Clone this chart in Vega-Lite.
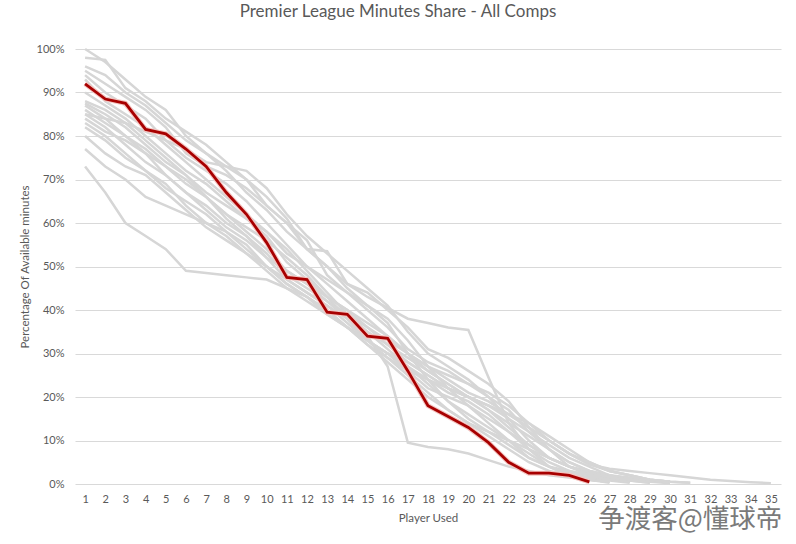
{
  "$schema": "https://vega.github.io/schema/vega-lite/v6.json",
  "width": 706,
  "height": 435,
  "autosize": {"type": "none"},
  "padding": {"left": 75, "top": 49, "right": 15, "bottom": 60},
  "background": "white",
  "title": {
    "text": "Premier League Minutes Share - All Comps",
    "font": "Lato",
    "fontSize": 17,
    "fontWeight": "normal",
    "color": "#595959",
    "anchor": "middle",
    "dx": -30,
    "offset": 22
  },
  "config": {
    "view": {"stroke": null},
    "axis": {"labelFont": "Lato", "titleFont": "Lato", "labelColor": "#595959", "titleColor": "#595959", "titleFontWeight": "normal"}
  },
  "datasets": {
    "minutes": [
      {"team": "Highlighted", "player": 1, "pct": 92}, {"team": "Highlighted", "player": 2, "pct": 88.5}, {"team": "Highlighted", "player": 3, "pct": 87.5}, {"team": "Highlighted", "player": 4, "pct": 81.5}, {"team": "Highlighted", "player": 5, "pct": 80.5}, {"team": "Highlighted", "player": 6, "pct": 77}, {"team": "Highlighted", "player": 7, "pct": 73}, {"team": "Highlighted", "player": 8, "pct": 67}, {"team": "Highlighted", "player": 9, "pct": 62}, {"team": "Highlighted", "player": 10, "pct": 55.5}, {"team": "Highlighted", "player": 11, "pct": 47.5}, {"team": "Highlighted", "player": 12, "pct": 47}, {"team": "Highlighted", "player": 13, "pct": 39.5}, {"team": "Highlighted", "player": 14, "pct": 39}, {"team": "Highlighted", "player": 15, "pct": 34}, {"team": "Highlighted", "player": 16, "pct": 33.5}, {"team": "Highlighted", "player": 17, "pct": 26}, {"team": "Highlighted", "player": 18, "pct": 18}, {"team": "Highlighted", "player": 19, "pct": 15.5}, {"team": "Highlighted", "player": 20, "pct": 13}, {"team": "Highlighted", "player": 21, "pct": 9.5}, {"team": "Highlighted", "player": 22, "pct": 5}, {"team": "Highlighted", "player": 23, "pct": 2.5}, {"team": "Highlighted", "player": 24, "pct": 2.5}, {"team": "Highlighted", "player": 25, "pct": 2}, {"team": "Highlighted", "player": 26, "pct": 0.5},

      {"team": "T1", "player": 1, "pct": 100}, {"team": "T1", "player": 2, "pct": 97}, {"team": "T1", "player": 3, "pct": 93}, {"team": "T1", "player": 4, "pct": 89}, {"team": "T1", "player": 5, "pct": 86}, {"team": "T1", "player": 6, "pct": 80}, {"team": "T1", "player": 7, "pct": 76}, {"team": "T1", "player": 8, "pct": 72}, {"team": "T1", "player": 9, "pct": 67}, {"team": "T1", "player": 10, "pct": 63}, {"team": "T1", "player": 11, "pct": 58}, {"team": "T1", "player": 12, "pct": 54}, {"team": "T1", "player": 13, "pct": 50}, {"team": "T1", "player": 14, "pct": 45}, {"team": "T1", "player": 15, "pct": 41}, {"team": "T1", "player": 16, "pct": 37}, {"team": "T1", "player": 17, "pct": 30}, {"team": "T1", "player": 18, "pct": 24}, {"team": "T1", "player": 19, "pct": 19}, {"team": "T1", "player": 20, "pct": 15}, {"team": "T1", "player": 21, "pct": 12}, {"team": "T1", "player": 22, "pct": 9}, {"team": "T1", "player": 23, "pct": 6}, {"team": "T1", "player": 24, "pct": 4}, {"team": "T1", "player": 25, "pct": 3}, {"team": "T1", "player": 26, "pct": 2}, {"team": "T1", "player": 27, "pct": 1.5}, {"team": "T1", "player": 28, "pct": 1}, {"team": "T1", "player": 29, "pct": 0.5}, {"team": "T1", "player": 30, "pct": 0.2},

      {"team": "T2", "player": 1, "pct": 98}, {"team": "T2", "player": 2, "pct": 97.5}, {"team": "T2", "player": 3, "pct": 91}, {"team": "T2", "player": 4, "pct": 88}, {"team": "T2", "player": 5, "pct": 84}, {"team": "T2", "player": 6, "pct": 81}, {"team": "T2", "player": 7, "pct": 78}, {"team": "T2", "player": 8, "pct": 74}, {"team": "T2", "player": 9, "pct": 70}, {"team": "T2", "player": 10, "pct": 64}, {"team": "T2", "player": 11, "pct": 60}, {"team": "T2", "player": 12, "pct": 54}, {"team": "T2", "player": 13, "pct": 50}, {"team": "T2", "player": 14, "pct": 46}, {"team": "T2", "player": 15, "pct": 43}, {"team": "T2", "player": 16, "pct": 40.5}, {"team": "T2", "player": 17, "pct": 38}, {"team": "T2", "player": 18, "pct": 37}, {"team": "T2", "player": 19, "pct": 36}, {"team": "T2", "player": 20, "pct": 35.4}, {"team": "T2", "player": 21, "pct": 24.5}, {"team": "T2", "player": 22, "pct": 14}, {"team": "T2", "player": 23, "pct": 8}, {"team": "T2", "player": 24, "pct": 4}, {"team": "T2", "player": 25, "pct": 2}, {"team": "T2", "player": 26, "pct": 1}, {"team": "T2", "player": 27, "pct": 0.3},

      {"team": "T3", "player": 1, "pct": 96}, {"team": "T3", "player": 2, "pct": 94}, {"team": "T3", "player": 3, "pct": 90}, {"team": "T3", "player": 4, "pct": 87}, {"team": "T3", "player": 5, "pct": 83}, {"team": "T3", "player": 6, "pct": 79}, {"team": "T3", "player": 7, "pct": 76}, {"team": "T3", "player": 8, "pct": 73}, {"team": "T3", "player": 9, "pct": 72}, {"team": "T3", "player": 10, "pct": 68}, {"team": "T3", "player": 11, "pct": 62}, {"team": "T3", "player": 12, "pct": 57}, {"team": "T3", "player": 13, "pct": 53}, {"team": "T3", "player": 14, "pct": 49}, {"team": "T3", "player": 15, "pct": 45}, {"team": "T3", "player": 16, "pct": 41}, {"team": "T3", "player": 17, "pct": 35}, {"team": "T3", "player": 18, "pct": 30}, {"team": "T3", "player": 19, "pct": 27}, {"team": "T3", "player": 20, "pct": 24}, {"team": "T3", "player": 21, "pct": 20}, {"team": "T3", "player": 22, "pct": 15}, {"team": "T3", "player": 23, "pct": 10}, {"team": "T3", "player": 24, "pct": 6}, {"team": "T3", "player": 25, "pct": 4}, {"team": "T3", "player": 26, "pct": 3}, {"team": "T3", "player": 27, "pct": 2}, {"team": "T3", "player": 28, "pct": 1.5}, {"team": "T3", "player": 29, "pct": 1}, {"team": "T3", "player": 30, "pct": 0.5}, {"team": "T3", "player": 31, "pct": 0.3},

      {"team": "T4", "player": 1, "pct": 95}, {"team": "T4", "player": 2, "pct": 92}, {"team": "T4", "player": 3, "pct": 89}, {"team": "T4", "player": 4, "pct": 86}, {"team": "T4", "player": 5, "pct": 82}, {"team": "T4", "player": 6, "pct": 76}, {"team": "T4", "player": 7, "pct": 73}, {"team": "T4", "player": 8, "pct": 71}, {"team": "T4", "player": 9, "pct": 68}, {"team": "T4", "player": 10, "pct": 64}, {"team": "T4", "player": 11, "pct": 60}, {"team": "T4", "player": 12, "pct": 56}, {"team": "T4", "player": 13, "pct": 48}, {"team": "T4", "player": 14, "pct": 44}, {"team": "T4", "player": 15, "pct": 40}, {"team": "T4", "player": 16, "pct": 36}, {"team": "T4", "player": 17, "pct": 31}, {"team": "T4", "player": 18, "pct": 28}, {"team": "T4", "player": 19, "pct": 26}, {"team": "T4", "player": 20, "pct": 23}, {"team": "T4", "player": 21, "pct": 20}, {"team": "T4", "player": 22, "pct": 17}, {"team": "T4", "player": 23, "pct": 12}, {"team": "T4", "player": 24, "pct": 8}, {"team": "T4", "player": 25, "pct": 5}, {"team": "T4", "player": 26, "pct": 3}, {"team": "T4", "player": 27, "pct": 2}, {"team": "T4", "player": 28, "pct": 1}, {"team": "T4", "player": 29, "pct": 0.5},

      {"team": "T5", "player": 1, "pct": 94}, {"team": "T5", "player": 2, "pct": 90}, {"team": "T5", "player": 3, "pct": 87}, {"team": "T5", "player": 4, "pct": 84}, {"team": "T5", "player": 5, "pct": 79}, {"team": "T5", "player": 6, "pct": 75}, {"team": "T5", "player": 7, "pct": 72}, {"team": "T5", "player": 8, "pct": 69}, {"team": "T5", "player": 9, "pct": 65}, {"team": "T5", "player": 10, "pct": 60}, {"team": "T5", "player": 11, "pct": 55}, {"team": "T5", "player": 12, "pct": 50}, {"team": "T5", "player": 13, "pct": 46}, {"team": "T5", "player": 14, "pct": 42}, {"team": "T5", "player": 15, "pct": 38}, {"team": "T5", "player": 16, "pct": 34}, {"team": "T5", "player": 17, "pct": 30}, {"team": "T5", "player": 18, "pct": 27}, {"team": "T5", "player": 19, "pct": 24}, {"team": "T5", "player": 20, "pct": 21}, {"team": "T5", "player": 21, "pct": 19}, {"team": "T5", "player": 22, "pct": 16}, {"team": "T5", "player": 23, "pct": 13}, {"team": "T5", "player": 24, "pct": 10}, {"team": "T5", "player": 25, "pct": 7}, {"team": "T5", "player": 26, "pct": 4.5}, {"team": "T5", "player": 27, "pct": 3.5}, {"team": "T5", "player": 28, "pct": 3}, {"team": "T5", "player": 29, "pct": 2.5}, {"team": "T5", "player": 30, "pct": 2}, {"team": "T5", "player": 31, "pct": 1.5}, {"team": "T5", "player": 32, "pct": 1}, {"team": "T5", "player": 33, "pct": 0.7}, {"team": "T5", "player": 34, "pct": 0.4}, {"team": "T5", "player": 35, "pct": 0.2},

      {"team": "T6", "player": 1, "pct": 93}, {"team": "T6", "player": 2, "pct": 88}, {"team": "T6", "player": 3, "pct": 85}, {"team": "T6", "player": 4, "pct": 82}, {"team": "T6", "player": 5, "pct": 78}, {"team": "T6", "player": 6, "pct": 74}, {"team": "T6", "player": 7, "pct": 70}, {"team": "T6", "player": 8, "pct": 66}, {"team": "T6", "player": 9, "pct": 62}, {"team": "T6", "player": 10, "pct": 58}, {"team": "T6", "player": 11, "pct": 53}, {"team": "T6", "player": 12, "pct": 50}, {"team": "T6", "player": 13, "pct": 47}, {"team": "T6", "player": 14, "pct": 44}, {"team": "T6", "player": 15, "pct": 41}, {"team": "T6", "player": 16, "pct": 38}, {"team": "T6", "player": 17, "pct": 33}, {"team": "T6", "player": 18, "pct": 27}, {"team": "T6", "player": 19, "pct": 22}, {"team": "T6", "player": 20, "pct": 18}, {"team": "T6", "player": 21, "pct": 14}, {"team": "T6", "player": 22, "pct": 10}, {"team": "T6", "player": 23, "pct": 6}, {"team": "T6", "player": 24, "pct": 4}, {"team": "T6", "player": 25, "pct": 2.5}, {"team": "T6", "player": 26, "pct": 1.5}, {"team": "T6", "player": 27, "pct": 0.8}, {"team": "T6", "player": 28, "pct": 0.3},

      {"team": "T7", "player": 1, "pct": 90}, {"team": "T7", "player": 2, "pct": 87}, {"team": "T7", "player": 3, "pct": 84}, {"team": "T7", "player": 4, "pct": 80}, {"team": "T7", "player": 5, "pct": 76}, {"team": "T7", "player": 6, "pct": 72}, {"team": "T7", "player": 7, "pct": 69}, {"team": "T7", "player": 8, "pct": 65}, {"team": "T7", "player": 9, "pct": 61}, {"team": "T7", "player": 10, "pct": 57}, {"team": "T7", "player": 11, "pct": 51}, {"team": "T7", "player": 12, "pct": 47}, {"team": "T7", "player": 13, "pct": 43}, {"team": "T7", "player": 14, "pct": 40}, {"team": "T7", "player": 15, "pct": 36}, {"team": "T7", "player": 16, "pct": 32}, {"team": "T7", "player": 17, "pct": 28}, {"team": "T7", "player": 18, "pct": 25}, {"team": "T7", "player": 19, "pct": 22}, {"team": "T7", "player": 20, "pct": 20}, {"team": "T7", "player": 21, "pct": 17}, {"team": "T7", "player": 22, "pct": 14}, {"team": "T7", "player": 23, "pct": 11}, {"team": "T7", "player": 24, "pct": 8}, {"team": "T7", "player": 25, "pct": 5}, {"team": "T7", "player": 26, "pct": 3}, {"team": "T7", "player": 27, "pct": 1.5}, {"team": "T7", "player": 28, "pct": 0.8}, {"team": "T7", "player": 29, "pct": 0.3},

      {"team": "T8", "player": 1, "pct": 88}, {"team": "T8", "player": 2, "pct": 86}, {"team": "T8", "player": 3, "pct": 83}, {"team": "T8", "player": 4, "pct": 79}, {"team": "T8", "player": 5, "pct": 75}, {"team": "T8", "player": 6, "pct": 71}, {"team": "T8", "player": 7, "pct": 67}, {"team": "T8", "player": 8, "pct": 64}, {"team": "T8", "player": 9, "pct": 61}, {"team": "T8", "player": 10, "pct": 58}, {"team": "T8", "player": 11, "pct": 54}, {"team": "T8", "player": 12, "pct": 49}, {"team": "T8", "player": 13, "pct": 44}, {"team": "T8", "player": 14, "pct": 39}, {"team": "T8", "player": 15, "pct": 35}, {"team": "T8", "player": 16, "pct": 31}, {"team": "T8", "player": 17, "pct": 27}, {"team": "T8", "player": 18, "pct": 23}, {"team": "T8", "player": 19, "pct": 19}, {"team": "T8", "player": 20, "pct": 16}, {"team": "T8", "player": 21, "pct": 13}, {"team": "T8", "player": 22, "pct": 10}, {"team": "T8", "player": 23, "pct": 7}, {"team": "T8", "player": 24, "pct": 4}, {"team": "T8", "player": 25, "pct": 2}, {"team": "T8", "player": 26, "pct": 1}, {"team": "T8", "player": 27, "pct": 0.5},

      {"team": "T9", "player": 1, "pct": 87.5}, {"team": "T9", "player": 2, "pct": 85}, {"team": "T9", "player": 3, "pct": 82}, {"team": "T9", "player": 4, "pct": 78}, {"team": "T9", "player": 5, "pct": 74}, {"team": "T9", "player": 6, "pct": 71}, {"team": "T9", "player": 7, "pct": 66}, {"team": "T9", "player": 8, "pct": 62}, {"team": "T9", "player": 9, "pct": 59}, {"team": "T9", "player": 10, "pct": 56}, {"team": "T9", "player": 11, "pct": 52}, {"team": "T9", "player": 12, "pct": 48}, {"team": "T9", "player": 13, "pct": 43}, {"team": "T9", "player": 14, "pct": 38}, {"team": "T9", "player": 15, "pct": 33}, {"team": "T9", "player": 16, "pct": 30}, {"team": "T9", "player": 17, "pct": 26}, {"team": "T9", "player": 18, "pct": 22}, {"team": "T9", "player": 19, "pct": 20}, {"team": "T9", "player": 20, "pct": 18}, {"team": "T9", "player": 21, "pct": 15}, {"team": "T9", "player": 22, "pct": 12}, {"team": "T9", "player": 23, "pct": 9}, {"team": "T9", "player": 24, "pct": 6}, {"team": "T9", "player": 25, "pct": 4}, {"team": "T9", "player": 26, "pct": 2.5}, {"team": "T9", "player": 27, "pct": 1.5}, {"team": "T9", "player": 28, "pct": 0.8}, {"team": "T9", "player": 29, "pct": 0.3},

      {"team": "T10", "player": 1, "pct": 87}, {"team": "T10", "player": 2, "pct": 84}, {"team": "T10", "player": 3, "pct": 80}, {"team": "T10", "player": 4, "pct": 77}, {"team": "T10", "player": 5, "pct": 73}, {"team": "T10", "player": 6, "pct": 69}, {"team": "T10", "player": 7, "pct": 66}, {"team": "T10", "player": 8, "pct": 62}, {"team": "T10", "player": 9, "pct": 58}, {"team": "T10", "player": 10, "pct": 54}, {"team": "T10", "player": 11, "pct": 49}, {"team": "T10", "player": 12, "pct": 46}, {"team": "T10", "player": 13, "pct": 42}, {"team": "T10", "player": 14, "pct": 39}, {"team": "T10", "player": 15, "pct": 36}, {"team": "T10", "player": 16, "pct": 33}, {"team": "T10", "player": 17, "pct": 30}, {"team": "T10", "player": 18, "pct": 26}, {"team": "T10", "player": 19, "pct": 23}, {"team": "T10", "player": 20, "pct": 20}, {"team": "T10", "player": 21, "pct": 18}, {"team": "T10", "player": 22, "pct": 15}, {"team": "T10", "player": 23, "pct": 12}, {"team": "T10", "player": 24, "pct": 9}, {"team": "T10", "player": 25, "pct": 6}, {"team": "T10", "player": 26, "pct": 4}, {"team": "T10", "player": 27, "pct": 2}, {"team": "T10", "player": 28, "pct": 1}, {"team": "T10", "player": 29, "pct": 0.5},

      {"team": "T11", "player": 1, "pct": 86}, {"team": "T11", "player": 2, "pct": 83}, {"team": "T11", "player": 3, "pct": 80}, {"team": "T11", "player": 4, "pct": 76}, {"team": "T11", "player": 5, "pct": 71}, {"team": "T11", "player": 6, "pct": 67}, {"team": "T11", "player": 7, "pct": 64}, {"team": "T11", "player": 8, "pct": 60}, {"team": "T11", "player": 9, "pct": 57}, {"team": "T11", "player": 10, "pct": 53}, {"team": "T11", "player": 11, "pct": 48}, {"team": "T11", "player": 12, "pct": 45}, {"team": "T11", "player": 13, "pct": 42}, {"team": "T11", "player": 14, "pct": 38}, {"team": "T11", "player": 15, "pct": 34}, {"team": "T11", "player": 16, "pct": 27}, {"team": "T11", "player": 17, "pct": 9.5}, {"team": "T11", "player": 18, "pct": 8.5}, {"team": "T11", "player": 19, "pct": 8}, {"team": "T11", "player": 20, "pct": 7}, {"team": "T11", "player": 21, "pct": 5.5}, {"team": "T11", "player": 22, "pct": 4}, {"team": "T11", "player": 23, "pct": 3}, {"team": "T11", "player": 24, "pct": 2}, {"team": "T11", "player": 25, "pct": 1.5}, {"team": "T11", "player": 26, "pct": 1}, {"team": "T11", "player": 27, "pct": 0.5},

      {"team": "T12", "player": 1, "pct": 85}, {"team": "T12", "player": 2, "pct": 82}, {"team": "T12", "player": 3, "pct": 78}, {"team": "T12", "player": 4, "pct": 74}, {"team": "T12", "player": 5, "pct": 71}, {"team": "T12", "player": 6, "pct": 67}, {"team": "T12", "player": 7, "pct": 63}, {"team": "T12", "player": 8, "pct": 59}, {"team": "T12", "player": 9, "pct": 56}, {"team": "T12", "player": 10, "pct": 52}, {"team": "T12", "player": 11, "pct": 49}, {"team": "T12", "player": 12, "pct": 46}, {"team": "T12", "player": 13, "pct": 43}, {"team": "T12", "player": 14, "pct": 40}, {"team": "T12", "player": 15, "pct": 37}, {"team": "T12", "player": 16, "pct": 34}, {"team": "T12", "player": 17, "pct": 30}, {"team": "T12", "player": 18, "pct": 27}, {"team": "T12", "player": 19, "pct": 25}, {"team": "T12", "player": 20, "pct": 23}, {"team": "T12", "player": 21, "pct": 21}, {"team": "T12", "player": 22, "pct": 18}, {"team": "T12", "player": 23, "pct": 14}, {"team": "T12", "player": 24, "pct": 10}, {"team": "T12", "player": 25, "pct": 7}, {"team": "T12", "player": 26, "pct": 4.5}, {"team": "T12", "player": 27, "pct": 3}, {"team": "T12", "player": 28, "pct": 2}, {"team": "T12", "player": 29, "pct": 1}, {"team": "T12", "player": 30, "pct": 0.5},

      {"team": "T13", "player": 1, "pct": 84}, {"team": "T13", "player": 2, "pct": 81}, {"team": "T13", "player": 3, "pct": 79}, {"team": "T13", "player": 4, "pct": 76}, {"team": "T13", "player": 5, "pct": 73}, {"team": "T13", "player": 6, "pct": 70}, {"team": "T13", "player": 7, "pct": 66}, {"team": "T13", "player": 8, "pct": 61}, {"team": "T13", "player": 9, "pct": 57}, {"team": "T13", "player": 10, "pct": 52}, {"team": "T13", "player": 11, "pct": 47}, {"team": "T13", "player": 12, "pct": 44}, {"team": "T13", "player": 13, "pct": 41}, {"team": "T13", "player": 14, "pct": 38}, {"team": "T13", "player": 15, "pct": 35}, {"team": "T13", "player": 16, "pct": 32}, {"team": "T13", "player": 17, "pct": 29}, {"team": "T13", "player": 18, "pct": 26}, {"team": "T13", "player": 19, "pct": 23}, {"team": "T13", "player": 20, "pct": 20}, {"team": "T13", "player": 21, "pct": 17}, {"team": "T13", "player": 22, "pct": 13}, {"team": "T13", "player": 23, "pct": 9}, {"team": "T13", "player": 24, "pct": 6}, {"team": "T13", "player": 25, "pct": 4}, {"team": "T13", "player": 26, "pct": 2.5}, {"team": "T13", "player": 27, "pct": 1.5}, {"team": "T13", "player": 28, "pct": 1}, {"team": "T13", "player": 29, "pct": 0.5},

      {"team": "T14", "player": 1, "pct": 83}, {"team": "T14", "player": 2, "pct": 80}, {"team": "T14", "player": 3, "pct": 76}, {"team": "T14", "player": 4, "pct": 72}, {"team": "T14", "player": 5, "pct": 68}, {"team": "T14", "player": 6, "pct": 65}, {"team": "T14", "player": 7, "pct": 62}, {"team": "T14", "player": 8, "pct": 58}, {"team": "T14", "player": 9, "pct": 55}, {"team": "T14", "player": 10, "pct": 50}, {"team": "T14", "player": 11, "pct": 46}, {"team": "T14", "player": 12, "pct": 43}, {"team": "T14", "player": 13, "pct": 40}, {"team": "T14", "player": 14, "pct": 36}, {"team": "T14", "player": 15, "pct": 32}, {"team": "T14", "player": 16, "pct": 29}, {"team": "T14", "player": 17, "pct": 26}, {"team": "T14", "player": 18, "pct": 24}, {"team": "T14", "player": 19, "pct": 22}, {"team": "T14", "player": 20, "pct": 20}, {"team": "T14", "player": 21, "pct": 18}, {"team": "T14", "player": 22, "pct": 16}, {"team": "T14", "player": 23, "pct": 14}, {"team": "T14", "player": 24, "pct": 11}, {"team": "T14", "player": 25, "pct": 8}, {"team": "T14", "player": 26, "pct": 5}, {"team": "T14", "player": 27, "pct": 3}, {"team": "T14", "player": 28, "pct": 2}, {"team": "T14", "player": 29, "pct": 1}, {"team": "T14", "player": 30, "pct": 0.5}, {"team": "T14", "player": 31, "pct": 0.3},

      {"team": "T15", "player": 1, "pct": 82}, {"team": "T15", "player": 2, "pct": 79}, {"team": "T15", "player": 3, "pct": 75}, {"team": "T15", "player": 4, "pct": 72}, {"team": "T15", "player": 5, "pct": 69}, {"team": "T15", "player": 6, "pct": 64}, {"team": "T15", "player": 7, "pct": 60}, {"team": "T15", "player": 8, "pct": 57}, {"team": "T15", "player": 9, "pct": 53}, {"team": "T15", "player": 10, "pct": 49}, {"team": "T15", "player": 11, "pct": 45}, {"team": "T15", "player": 12, "pct": 42}, {"team": "T15", "player": 13, "pct": 39}, {"team": "T15", "player": 14, "pct": 36}, {"team": "T15", "player": 15, "pct": 33}, {"team": "T15", "player": 16, "pct": 30}, {"team": "T15", "player": 17, "pct": 27}, {"team": "T15", "player": 18, "pct": 24}, {"team": "T15", "player": 19, "pct": 21}, {"team": "T15", "player": 20, "pct": 19}, {"team": "T15", "player": 21, "pct": 16}, {"team": "T15", "player": 22, "pct": 12}, {"team": "T15", "player": 23, "pct": 8}, {"team": "T15", "player": 24, "pct": 5}, {"team": "T15", "player": 25, "pct": 3}, {"team": "T15", "player": 26, "pct": 2}, {"team": "T15", "player": 27, "pct": 1}, {"team": "T15", "player": 28, "pct": 0.5},

      {"team": "T16", "player": 1, "pct": 80}, {"team": "T16", "player": 2, "pct": 76}, {"team": "T16", "player": 3, "pct": 73}, {"team": "T16", "player": 4, "pct": 71}, {"team": "T16", "player": 5, "pct": 67}, {"team": "T16", "player": 6, "pct": 63}, {"team": "T16", "player": 7, "pct": 59}, {"team": "T16", "player": 8, "pct": 56}, {"team": "T16", "player": 9, "pct": 53}, {"team": "T16", "player": 10, "pct": 50}, {"team": "T16", "player": 11, "pct": 47}, {"team": "T16", "player": 12, "pct": 44}, {"team": "T16", "player": 13, "pct": 41}, {"team": "T16", "player": 14, "pct": 37}, {"team": "T16", "player": 15, "pct": 33}, {"team": "T16", "player": 16, "pct": 30}, {"team": "T16", "player": 17, "pct": 28}, {"team": "T16", "player": 18, "pct": 25}, {"team": "T16", "player": 19, "pct": 22}, {"team": "T16", "player": 20, "pct": 20}, {"team": "T16", "player": 21, "pct": 18}, {"team": "T16", "player": 22, "pct": 16}, {"team": "T16", "player": 23, "pct": 13}, {"team": "T16", "player": 24, "pct": 10}, {"team": "T16", "player": 25, "pct": 7}, {"team": "T16", "player": 26, "pct": 5}, {"team": "T16", "player": 27, "pct": 3}, {"team": "T16", "player": 28, "pct": 2}, {"team": "T16", "player": 29, "pct": 1}, {"team": "T16", "player": 30, "pct": 0.5},

      {"team": "T17", "player": 1, "pct": 77}, {"team": "T17", "player": 2, "pct": 73}, {"team": "T17", "player": 3, "pct": 70}, {"team": "T17", "player": 4, "pct": 66}, {"team": "T17", "player": 5, "pct": 64}, {"team": "T17", "player": 6, "pct": 62}, {"team": "T17", "player": 7, "pct": 60}, {"team": "T17", "player": 8, "pct": 58}, {"team": "T17", "player": 9, "pct": 54}, {"team": "T17", "player": 10, "pct": 50}, {"team": "T17", "player": 11, "pct": 46}, {"team": "T17", "player": 12, "pct": 43}, {"team": "T17", "player": 13, "pct": 39}, {"team": "T17", "player": 14, "pct": 36}, {"team": "T17", "player": 15, "pct": 33}, {"team": "T17", "player": 16, "pct": 29}, {"team": "T17", "player": 17, "pct": 25}, {"team": "T17", "player": 18, "pct": 21}, {"team": "T17", "player": 19, "pct": 17}, {"team": "T17", "player": 20, "pct": 14}, {"team": "T17", "player": 21, "pct": 12}, {"team": "T17", "player": 22, "pct": 10}, {"team": "T17", "player": 23, "pct": 8}, {"team": "T17", "player": 24, "pct": 6}, {"team": "T17", "player": 25, "pct": 4}, {"team": "T17", "player": 26, "pct": 2.5}, {"team": "T17", "player": 27, "pct": 1.5}, {"team": "T17", "player": 28, "pct": 1}, {"team": "T17", "player": 29, "pct": 0.5},

      {"team": "T18", "player": 1, "pct": 73}, {"team": "T18", "player": 2, "pct": 67}, {"team": "T18", "player": 3, "pct": 60}, {"team": "T18", "player": 4, "pct": 57}, {"team": "T18", "player": 5, "pct": 54}, {"team": "T18", "player": 6, "pct": 49}, {"team": "T18", "player": 7, "pct": 48.5}, {"team": "T18", "player": 8, "pct": 48}, {"team": "T18", "player": 9, "pct": 47.5}, {"team": "T18", "player": 10, "pct": 47}, {"team": "T18", "player": 11, "pct": 45}, {"team": "T18", "player": 12, "pct": 43}, {"team": "T18", "player": 13, "pct": 40}, {"team": "T18", "player": 14, "pct": 36}, {"team": "T18", "player": 15, "pct": 32}, {"team": "T18", "player": 16, "pct": 28}, {"team": "T18", "player": 17, "pct": 24}, {"team": "T18", "player": 18, "pct": 20}, {"team": "T18", "player": 19, "pct": 17}, {"team": "T18", "player": 20, "pct": 14}, {"team": "T18", "player": 21, "pct": 11}, {"team": "T18", "player": 22, "pct": 8}, {"team": "T18", "player": 23, "pct": 5}, {"team": "T18", "player": 24, "pct": 3}, {"team": "T18", "player": 25, "pct": 2}, {"team": "T18", "player": 26, "pct": 1}, {"team": "T18", "player": 27, "pct": 0.5},

      {"team": "T19", "player": 1, "pct": 85}, {"team": "T19", "player": 2, "pct": 84}, {"team": "T19", "player": 3, "pct": 83}, {"team": "T19", "player": 4, "pct": 81}, {"team": "T19", "player": 5, "pct": 79}, {"team": "T19", "player": 6, "pct": 77}, {"team": "T19", "player": 7, "pct": 74}, {"team": "T19", "player": 8, "pct": 73}, {"team": "T19", "player": 9, "pct": 70}, {"team": "T19", "player": 10, "pct": 66}, {"team": "T19", "player": 11, "pct": 61}, {"team": "T19", "player": 12, "pct": 54}, {"team": "T19", "player": 13, "pct": 53.5}, {"team": "T19", "player": 14, "pct": 46}, {"team": "T19", "player": 15, "pct": 44}, {"team": "T19", "player": 16, "pct": 40}, {"team": "T19", "player": 17, "pct": 36}, {"team": "T19", "player": 18, "pct": 31}, {"team": "T19", "player": 19, "pct": 29}, {"team": "T19", "player": 20, "pct": 26}, {"team": "T19", "player": 21, "pct": 23}, {"team": "T19", "player": 22, "pct": 19}, {"team": "T19", "player": 23, "pct": 13}, {"team": "T19", "player": 24, "pct": 8}, {"team": "T19", "player": 25, "pct": 4}, {"team": "T19", "player": 26, "pct": 2}, {"team": "T19", "player": 27, "pct": 1}, {"team": "T19", "player": 28, "pct": 0.5}
    ],
    "watermark": [{"label": "争渡客@懂球帝", "player": 31, "pct": -8.3}]
  },
  "encoding": {
    "x": {
      "field": "player",
      "type": "ordinal",
      "scale": {"type": "point", "padding": 0.5, "domain": [1,2,3,4,5,6,7,8,9,10,11,12,13,14,15,16,17,18,19,20,21,22,23,24,25,26,27,28,29,30,31,32,33,34,35]},
      "axis": {"title": "Player Used", "labelAngle": 0, "ticks": false, "domain": false, "labelFontSize": 11, "labelPadding": 9, "titleFontSize": 11.5, "titlePadding": 8}
    },
    "y": {
      "field": "pct",
      "type": "quantitative",
      "scale": {"domain": [0, 100], "nice": false, "zero": true},
      "axis": {"title": "Percentage Of Available minutes", "values": [0,10,20,30,40,50,60,70,80,90,100], "labelExpr": "datum.value + '%'", "ticks": false, "domain": false, "gridColor": "#d9d9d9", "labelFontSize": 11, "labelPadding": 11, "titleFontSize": 11.5, "titlePadding": 6}
    }
  },
  "layer": [
    {
      "data": {"name": "minutes"},
      "transform": [{"filter": "datum.team != 'Highlighted'"}],
      "mark": {"type": "line", "color": "#d6d6d6", "strokeWidth": 2.5},
      "encoding": {"detail": {"field": "team"}}
    },
    {
      "data": {"name": "minutes"},
      "transform": [{"filter": "datum.team == 'Highlighted'"}],
      "mark": {"type": "line", "color": "#f4c6c2", "strokeWidth": 5},
      "encoding": {"detail": {"field": "team"}}
    },
    {
      "data": {"name": "minutes"},
      "transform": [{"filter": "datum.team == 'Highlighted'"}],
      "mark": {"type": "line", "color": "#a80000", "strokeWidth": 2.8},
      "encoding": {"detail": {"field": "team"}}
    },
    {
      "data": {"name": "watermark"},
      "mark": {"type": "text", "font": "Noto Sans CJK SC", "fontSize": 26.5, "color": "#7a7a7a", "align": "center", "baseline": "middle", "clip": false},
      "encoding": {"text": {"field": "label"}}
    }
  ]
}
